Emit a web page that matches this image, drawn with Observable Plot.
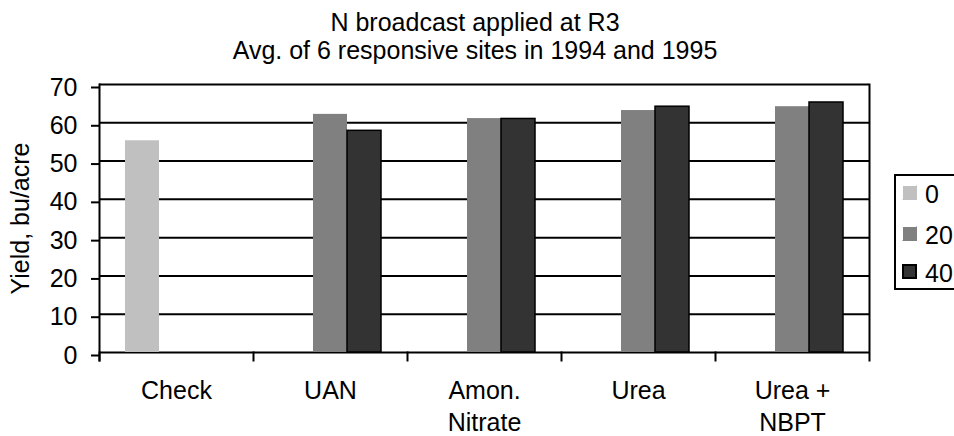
<!DOCTYPE html>
<html>
<head>
<meta charset="utf-8">
<script src="https://cdn.jsdelivr.net/npm/d3@7"></script>
<script src="https://cdn.jsdelivr.net/npm/@observablehq/plot@0.6"></script>
<style>
  html, body { margin: 0; padding: 0; background: #fff; overflow: hidden; }
  body { width: 954px; height: 436px; position: relative; font-family: "Liberation Sans", Arial, sans-serif; color: #000; }
  #title { position: absolute; left: 0; top: 8px; width: 950px; text-align: center; font-size: 25px; line-height: 28px; }
  #chart { position: absolute; left: 0; top: 64px; }
  #legend { position: absolute; left: 894px; top: 174px; width: 90px; height: 116px; border: 2px solid #000; box-sizing: border-box; background: #fff; }
  .item { position: absolute; left: 6px; height: 18px; font-size: 25px; line-height: 18px; }
  .sw { position: absolute; left: 0; top: 0; width: 15px; height: 15px; box-sizing: border-box; border: 1px solid; }
  .lab { position: absolute; left: 23px; top: 0; }
</style>
</head>
<body>
<div id="title"></div>
<div id="chart"></div>
<div id="legend"></div>
<script>
// ---- data ----
const titleLines = ["N broadcast applied at R3", "Avg. of 6 responsive sites in 1994 and 1995"];
const categories = ["Check", "UAN", "Amon.\nNitrate", "Urea", "Urea +\nNBPT"];
const levels = ["0", "20", "40"];
const values0  = [55.3, null, null, null, null];
const values20 = [null, 62.2, 61.1, 63.2, 64.2];
const values40 = [null, 57.9, 61.0, 64.2, 65.3];
const yTicks = [0, 10, 20, 30, 40, 50, 60, 70];
const yLabel = "Yield, bu/acre";
const levelColors = ["#c0c0c0", "#808080", "#333333"];

// ---- table ----
const series = [values0, values20, values40];
const rows = [];
categories.forEach((cat, i) => {
  levels.forEach((lev, j) => {
    const v = series[j][i];
    if (v != null) rows.push({cat, level: lev, value: v});
  });
});

document.getElementById("title").innerHTML = titleLines.join("<br>");

const W = 954, H = 372, mT = 20, mB = 84, mL = 99, mR = 85;
const plotH = H - mT - mB;
const tickLen = 8;

const chart = Plot.plot({
  width: W,
  height: H,
  marginTop: mT,
  marginBottom: mB,
  marginLeft: mL,
  marginRight: mR,
  style: {fontFamily: "'Liberation Sans', Arial, sans-serif", fontSize: "25px", color: "#000", background: "transparent", overflow: "visible"},
  fx: {domain: categories, paddingInner: 0, paddingOuter: 0, label: null},
  x: {domain: levels, paddingInner: 0, paddingOuter: 0.72, axis: null},
  y: {domain: [0, 70], label: yLabel},
  color: {domain: levels, range: levelColors},
  marks: [
    Plot.ruleY(yTicks, {stroke: "#000", strokeWidth: 2}),
    Plot.barY(rows.filter(d => d.level !== "40"), {fx: "cat", x: "level", y: "value", fill: "level"}),
    Plot.barY(rows.filter(d => d.level === "40"), {fx: "cat", x: "level", y: "value", fill: "level", stroke: "#000", strokeWidth: 1.5}),
    // category boundary ticks (left edge of every facet)
    Plot.frame({anchor: "left", insetTop: plotH, insetBottom: -tickLen, stroke: "#000", strokeWidth: 2}),
    // left and right plot borders
    Plot.frame({anchor: "left", facetAnchor: "left", insetBottom: -tickLen, stroke: "#000", strokeWidth: 2}),
    Plot.frame({anchor: "right", facetAnchor: "right", insetBottom: -tickLen, stroke: "#000", strokeWidth: 2}),
    Plot.axisY({ticks: yTicks, tickSize: tickLen, tickPadding: 14, strokeWidth: 2, dy: 3,
      label: yLabel, labelAnchor: "center", labelOffset: 88, labelArrow: "none"}),
    Plot.axisFx({anchor: "bottom", tickSize: 0, tickPadding: 23, lineHeight: 1.3, label: null})
  ]
});
document.getElementById("chart").appendChild(chart);

// legend
const legend = document.getElementById("legend");
const itemTops = [9, 50, 88];
const bevels = [
  "#ffffff #c0c0c0 #c0c0c0 #ffffff",
  "#ffffff #808080 #808080 #ffffff",
  "#000000 #000000 #000000 #000000"
];
levels.forEach((lev, j) => {
  const it = document.createElement("div");
  it.className = "item";
  it.style.top = itemTops[j] + "px";
  const sw = document.createElement("div");
  sw.className = "sw";
  sw.style.background = levelColors[j];
  sw.style.borderColor = bevels[j];
  if (j === 2) sw.style.borderWidth = "2px";
  const lab = document.createElement("div");
  lab.className = "lab";
  lab.textContent = lev;
  it.appendChild(sw);
  it.appendChild(lab);
  legend.appendChild(it);
});
</script>
</body>
</html>
